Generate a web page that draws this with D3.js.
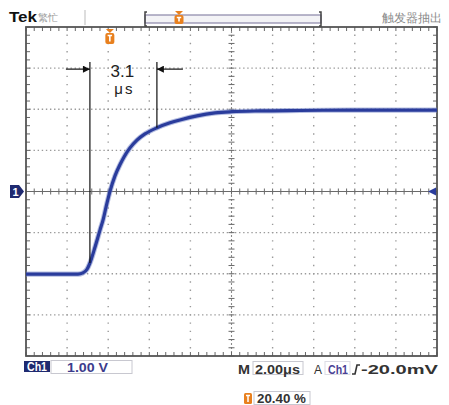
<!DOCTYPE html>
<html><head><meta charset="utf-8">
<script src="https://cdn.jsdelivr.net/npm/d3@7"></script>
<style>
html,body{margin:0;padding:0;background:#fff;}
svg{display:block;}
text{font-family:"Liberation Sans",Arial,sans-serif;}
</style></head>
<body>
<svg id="c" width="449" height="405"></svg>
<script>
// ---- data (time in µs from left edge of screen, voltage in V) ----
const timeUs = [0, 2.53, 2.77, 2.97, 3.11, 3.36, 3.60, 3.75, 3.94, 4.09, 4.33, 4.57, 4.77, 5.06, 5.40, 5.79, 6.37, 7.01, 7.49, 8.32, 9.20, 10.02, 11.39, 13.33, 15.77, 18.20, 20];
const voltV  = [-2.01, -2.01, -1.98, -1.89, -1.74, -1.35, -0.94, -0.69, -0.28, 0.01, 0.38, 0.65, 0.84, 1.06, 1.25, 1.40, 1.55, 1.67, 1.74, 1.84, 1.91, 1.94, 1.96, 1.97, 1.98, 1.98, 1.98];
const xTicks = [0, 2, 4, 6, 8, 10, 12, 14, 16, 18, 20];      // 2.00 µs/div
const yTicks = [-4, -3, -2, -1, 0, 1, 2, 3, 4];               // 1.00 V/div
const cursorT = [3.11, 6.37];
const cursorLabel = ["3.1", "μs"];
const triggerT = 4.08;
const statusTop = ["Tek", "繁忙", "触发器抽出"];
const statusBottom = ["Ch1", "1.00 V", "M", "2.00μs", "Ch1", "-20.0mV", "20.40 %"];

const svg = d3.select("#c");
const L = 26, R = 437, T = 27, B = 356;
const x = d3.scaleLinear().domain([0, 20]).range([L, R]);
const y = d3.scaleLinear().domain([-4, 4]).range([B, T]);
const minorX = (x(2) - x(0)) / 5, minorY = (y(0) - y(1)) / 5;

const g = svg.append("g");
// grid (dotted)
g.selectAll(".vg").data(xTicks.slice(1, -1).filter(d => d !== 10)).join("line")
  .attr("x1", d => x(d)).attr("x2", d => x(d)).attr("y1", T).attr("y2", B)
  .attr("stroke", "#9a9a9a").attr("stroke-width", 1.4)
  .attr("stroke-dasharray", `1.4 ${minorY - 1.4}`).attr("stroke-dashoffset", -minorY + 0.7);
g.selectAll(".hg").data(yTicks.slice(1, -1).filter(d => d !== 0)).join("line")
  .attr("y1", d => y(d)).attr("y2", d => y(d)).attr("x1", L).attr("x2", R)
  .attr("stroke", "#9a9a9a").attr("stroke-width", 1.4)
  .attr("stroke-dasharray", `1.4 ${minorX / 2 - 1.4}`).attr("stroke-dashoffset", 0.7);
// center axes
g.append("line").attr("x1", L).attr("x2", R).attr("y1", y(0)).attr("y2", y(0)).attr("stroke", "#6a6a6a").attr("stroke-width", 1.1);
g.append("line").attr("x1", x(10)).attr("x2", x(10)).attr("y1", T).attr("y2", B).attr("stroke", "#8a8a8a").attr("stroke-width", 1.1)
  .attr("stroke-dasharray", "2 2");
const minorXs = d3.range(0, 51).map(i => L + i * minorX);
const minorYs = d3.range(0, 41).map(i => T + i * minorY);
g.selectAll(".cxt").data(minorYs).join("line")
  .attr("x1", x(10) - 3).attr("x2", x(10) + 3).attr("y1", d => d).attr("y2", d => d)
  .attr("stroke", "#6a6a6a").attr("stroke-width", 1);
g.selectAll(".cyt").data(minorXs).join("line")
  .attr("y1", y(0) - 3).attr("y2", y(0) + 3).attr("x1", d => d).attr("x2", d => d)
  .attr("stroke", "#6a6a6a").attr("stroke-width", 1);
// border ticks
g.selectAll(".tt").data(minorXs).join("line")
  .attr("x1", d => d).attr("x2", d => d).attr("y1", T).attr("y2", T + 4).attr("stroke", "#666").attr("stroke-width", 1);
g.selectAll(".bt").data(minorXs).join("line")
  .attr("x1", d => d).attr("x2", d => d).attr("y1", B).attr("y2", B - 4).attr("stroke", "#666").attr("stroke-width", 1);
g.selectAll(".lt").data(minorYs).join("line")
  .attr("y1", d => d).attr("y2", d => d).attr("x1", L).attr("x2", L + 4).attr("stroke", "#666").attr("stroke-width", 1);
g.selectAll(".rt").data(minorYs).join("line")
  .attr("y1", d => d).attr("y2", d => d).attr("x1", R).attr("x2", R - 4).attr("stroke", "#666").attr("stroke-width", 1);
g.append("rect").attr("x", L).attr("y", T).attr("width", R - L).attr("height", B - T)
  .attr("fill", "none").attr("stroke", "#555").attr("stroke-width", 1.8);

// waveform
const pts = timeUs.map((t, i) => [t, voltV[i]]);
const line = d3.line().x(d => x(d[0])).y(d => y(d[1])).curve(d3.curveMonotoneX);
svg.append("path").attr("d", line(pts)).attr("fill", "none").attr("stroke", "#7686c8").attr("stroke-width", 5.2).attr("stroke-opacity", 0.55);
svg.append("path").attr("d", line(pts)).attr("fill", "none").attr("stroke", "#2a3c9c").attr("stroke-width", 3.2);

// cursors
const interp = t => { const i = d3.bisectLeft(timeUs, t); const t0 = timeUs[i-1], t1 = timeUs[i]; const f = (t - t0) / (t1 - t0); return voltV[i-1] + f * (voltV[i] - voltV[i-1]); };
svg.selectAll(".cur").data(cursorT).join("line")
  .attr("x1", d => x(d)).attr("x2", d => x(d)).attr("y1", 62).attr("y2", d => y(interp(d)))
  .attr("stroke", "#111").attr("stroke-width", 1.2);
const ay = y(3) + 1;
const defs = svg.append("defs");
defs.append("marker").attr("id", "ah").attr("viewBox", "0 0 10 10").attr("refX", 10).attr("refY", 5)
  .attr("markerWidth", 9).attr("markerHeight", 7).attr("markerUnits", "userSpaceOnUse").attr("orient", "auto")
  .append("path").attr("d", "M0,0L10,5L0,10z").attr("fill", "#111");
svg.append("line").attr("x1", x(cursorT[0]) - 24).attr("x2", x(cursorT[0])).attr("y1", ay).attr("y2", ay)
  .attr("stroke", "#111").attr("stroke-width", 1.2).attr("marker-end", "url(#ah)");
svg.append("line").attr("x1", x(cursorT[1]) + 26).attr("x2", x(cursorT[1])).attr("y1", ay).attr("y2", ay)
  .attr("stroke", "#111").attr("stroke-width", 1.2).attr("marker-end", "url(#ah)");
const cmid = (x(cursorT[0]) + x(cursorT[1])) / 2;
svg.append("text").attr("x", cmid - 1).attr("y", 77).attr("text-anchor", "middle").attr("font-size", 17)
  .attr("fill", "#222").text(cursorLabel[0]);
svg.append("text").attr("x", cmid + 1).attr("y", 94).attr("text-anchor", "middle").attr("font-size", 15)
  .attr("fill", "#222").attr("letter-spacing", 2).text(cursorLabel[1]);

// trigger marker
const orange = "#e8801e";
function tMarker(cx, top, h) {
  const m = svg.append("g");
  m.append("path").attr("d", `M${cx-4},${top}L${cx+4},${top}L${cx},${top+4}z`).attr("fill", orange);
  m.append("rect").attr("x", cx - 4.5).attr("y", top + 4).attr("width", 9).attr("height", h).attr("rx", 2).attr("fill", orange);
  m.append("path").attr("d", `M${cx-2.2},${top+6.5}L${cx+2.2},${top+6.5}M${cx},${top+6.5}L${cx},${top+h+1.5}`)
    .attr("stroke", "#fff").attr("stroke-width", 1.6);
}
tMarker(x(triggerT), 29, 11);

// top status bar
svg.append("text").attr("x", 9).attr("y", 21.5).attr("font-size", 14).attr("font-weight", "bold").attr("fill", "#111")
  .attr("textLength", 28).attr("lengthAdjust", "spacingAndGlyphs").text(statusTop[0]);
svg.append("text").attr("x", 38).attr("y", 21).attr("font-size", 10).attr("fill", "#999").attr("font-family", "Noto Sans CJK SC").text(statusTop[1]);
svg.append("line").attr("x1", 85).attr("x2", 85).attr("y1", 10).attr("y2", 25).attr("stroke", "#bbb").attr("stroke-width", 1);
svg.append("rect").attr("x", 145).attr("y", 15).attr("width", 176).attr("height", 8).attr("fill", "#f3f3f6").attr("stroke", "#8a86a8").attr("stroke-width", 1.2);
svg.append("path").attr("d", "M147,12L145,12L145,26L147,26M319,12L321,12L321,26L319,26").attr("fill", "none").attr("stroke", "#444").attr("stroke-width", 1.5);
tMarker(179, 11, 9);
svg.append("text").attr("x", 442).attr("y", 22).attr("text-anchor", "end").attr("font-size", 11.5).attr("fill", "#8a8a8a")
  .attr("font-family", "Noto Sans CJK SC").text(statusTop[2]);

// channel markers
const navy = "#1f2a70";
svg.append("path").attr("d", `M10,${y(0)-6.5}L19,${y(0)-6.5}L24,${y(0)}L19,${y(0)+6.5}L10,${y(0)+6.5}z`).attr("fill", navy);
svg.append("text").attr("x", 15.5).attr("y", y(0) + 4.5).attr("text-anchor", "middle").attr("font-size", 11).attr("font-weight", "bold").attr("fill", "#fff").text("1");
svg.append("path").attr("d", `M428,${y(0)}L436,${y(0)-4}L436,${y(0)+4}z`).attr("fill", "#2a3c9c");

// bottom status
const txt = (xx, yy, s, len, fill, fs) => svg.append("text").attr("x", xx).attr("y", yy).attr("font-size", fs || 13.5).attr("font-weight", "bold")
  .attr("fill", fill).attr("textLength", len).attr("lengthAdjust", "spacingAndGlyphs").text(s);
svg.append("rect").attr("x", 24).attr("y", 361).attr("width", 26).attr("height", 11).attr("fill", navy);
txt(27, 371, statusBottom[0], 20, "#fff", 12.5);
svg.append("rect").attr("x", 51).attr("y", 360.5).attr("width", 81).attr("height", 13).attr("fill", "none").attr("stroke", "#c8c8d0").attr("stroke-width", 1);
txt(67, 372, statusBottom[1], 41, "#3c3c8c");

txt(238, 374, statusBottom[2], 12, "#333");
svg.append("rect").attr("x", 253).attr("y", 361.5).attr("width", 50).attr("height", 13).attr("fill", "none").attr("stroke", "#c8c8d0").attr("stroke-width", 1);
txt(255, 374, statusBottom[3], 45, "#333");
svg.append("text").attr("x", 314).attr("y", 374).attr("font-size", 12).attr("fill", "#333").text("A");
svg.append("rect").attr("x", 325).attr("y", 361.5).attr("width", 25).attr("height", 13).attr("fill", "none").attr("stroke", "#dcdce4").attr("stroke-width", 1);
txt(328, 374, statusBottom[4], 20, "#4a3f94");
svg.append("path").attr("d", "M352,374L355,374L357,365L360,365").attr("fill", "none").attr("stroke", "#333").attr("stroke-width", 1.6);
txt(361, 374, statusBottom[5], 77, "#333");

svg.append("rect").attr("x", 244).attr("y", 393).attr("width", 8).attr("height", 11).attr("rx", 1.5).attr("fill", orange);
svg.append("path").attr("d", "M246,395.5L250,395.5M248,395.5L248,402").attr("stroke", "#fff").attr("stroke-width", 1.5);
svg.append("rect").attr("x", 254).attr("y", 391.5).attr("width", 56).attr("height", 13).attr("fill", "none").attr("stroke", "#c8c8d0").attr("stroke-width", 1);
txt(257, 403, statusBottom[6], 49, "#333");
</script>
</body></html>
